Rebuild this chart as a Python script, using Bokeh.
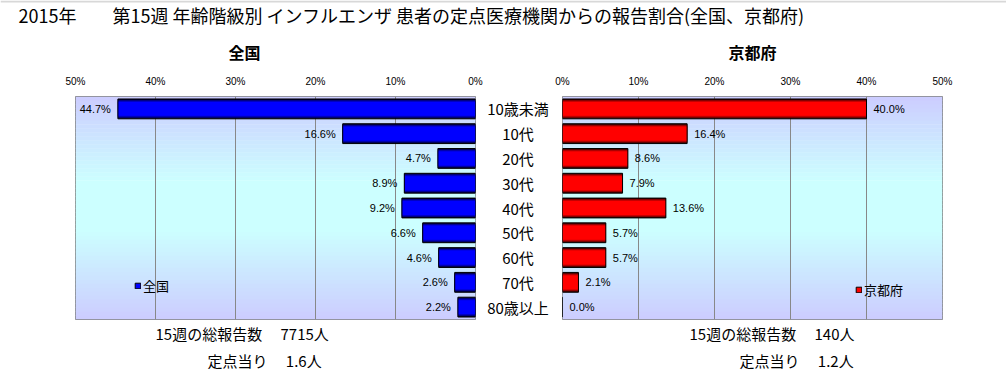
from bokeh.plotting import figure
from bokeh.layouts import column, row
from bokeh.models import (Range1d, FactorRange, FixedTicker, PrintfTickFormatter, BoxAnnotation,
                          Grid, Legend, LegendItem, ColumnDataSource, Title, Span)
from bokeh.core.properties import value
from bokeh.embed import file_html
from bokeh.resources import INLINE

# ---------------- data ----------------
title_text = "2015年　　第15週 年齢階級別 インフルエンザ 患者の定点医療機関からの報告割合(全国、京都府)"
categories = ["10歳未満", "10代", "20代", "30代", "40代", "50代", "60代", "70代", "80歳以上"]
national = [44.7, 16.6, 4.7, 8.9, 9.2, 6.6, 4.6, 2.6, 2.2]
kyoto = [40.0, 16.4, 8.6, 7.9, 13.6, 5.7, 5.7, 2.1, 0.0]
tick_values = [0, 10, 20, 30, 40, 50]
panel_names = ["全国", "京都府"]
total_label = "15週の総報告数"
total_values = ["7715人", "140人"]
per_label = "定点当り"
per_values = ["1.6人", "1.2人"]

JP = "Noto Sans CJK JP"
NUM = "Liberation Sans"

BLUES = ["#000030", "#000068", "#0000A0", "#0000D0", "#0000FF"]
REDS = ["#300000", "#680000", "#A00000", "#D00000", "#FF0000"]
HEIGHTS = [0.8, 0.74, 0.68, 0.62, 0.56]

ROW_H = 345
MB_TOP = 67
MB_BOT = 54


def bg_color(t):
    # lavender -> light cyan -> lavender
    if t < 0.38:
        g = 204 + (255 - 204) * t / 0.38
    elif t < 0.6:
        g = 255
    else:
        g = 255 - (255 - 204) * (t - 0.6) / 0.4
    return "#%02x%02x%02x" % (204, int(round(g)), 255)


def make_panel(vals, reverse, colors, name, legend_loc, width, bl, br,
               title_align, title_offset, line1_offset, line2_offset, tot, per, y_range):
    src = ColumnDataSource(dict(cat=categories, val=vals,
                                lab=["%.1f%%" % v for v in vals]))
    p = figure(width=width, height=ROW_H,
               x_range=Range1d(50, 0) if reverse else Range1d(0, 50),
               y_range=y_range, x_axis_location="above", y_axis_location=None,
               toolbar_location=None, output_backend="svg",
               min_border_left=bl, min_border_right=br,
               min_border_top=MB_TOP, min_border_bottom=MB_BOT)
    p.outline_line_color = "#808080"
    p.outline_line_width = 1
    p.background_fill_color = "white"
    p.border_fill_color = "white"
    p.grid.visible = False

    ax = p.xaxis[0]
    ax.ticker = FixedTicker(ticks=tick_values)
    ax.formatter = PrintfTickFormatter(format="%d%%")
    ax.axis_line_color = None
    ax.major_tick_line_color = None
    ax.minor_tick_line_color = None
    ax.major_tick_out = 0
    ax.major_tick_in = 0
    ax.major_label_standoff = 10
    ax.major_label_text_font = NUM
    ax.major_label_text_font_size = "10px"
    ax.major_label_text_color = "black"

    # panel title
    p.title = Title(text=name, align=title_align, offset=title_offset, standoff=18,
                    text_font=JP, text_font_size="16px", text_font_style="bold",
                    text_color="black")

    # gradient background
    n = 56
    for i in range(n):
        top = 9 - i * 9.0 / n
        bot = 9 - (i + 1) * 9.0 / n - 0.02
        p.add_layout(BoxAnnotation(top=top, bottom=max(bot, 0), fill_color=bg_color((i + 0.5) / n),
                                   fill_alpha=1, line_color=None, level="underlay"))
    p.add_layout(Grid(dimension=0, ticker=FixedTicker(ticks=tick_values),
                      grid_line_color="#888888", grid_line_width=1))

    rs = []
    for h, c in zip(HEIGHTS, colors):
        rs.append(p.hbar(y="cat", left=0, right="val", height=h, source=src,
                         fill_color=c, line_color=None))
    r_out = p.hbar(y="cat", left=0, right="val", height=0.8, source=src,
                   fill_color=None, line_color="black", line_width=1)

    p.text(x="val", y="cat", text="lab", source=src,
           text_align="right" if reverse else "left", text_baseline="middle",
           x_offset=-7 if reverse else 7,
           text_font=value(NUM), text_font_size="11px", text_color="black")

    leg = Legend(items=[LegendItem(label=name, renderers=[rs[-1], r_out])],
                 location=legend_loc, border_line_color=None, background_fill_alpha=0,
                 padding=0, margin=0, spacing=0, glyph_width=7, glyph_height=7,
                 label_standoff=2, label_height=7, label_text_font=JP,
                 label_text_font_size="13px", label_text_color="black")
    p.add_layout(leg)

    # report totals below the panel
    p.add_layout(Title(text=total_label + "　  " + tot, align="left", offset=line1_offset,
                       standoff=3, text_font=JP, text_font_size="15px",
                       text_font_style="normal", text_color="black"), "below")
    p.add_layout(Title(text=per_label + "　  " + per, align="left", offset=line2_offset,
                       standoff=5, text_font=JP, text_font_size="15px",
                       text_font_style="normal", text_color="black"), "below")
    return p


y_range = FactorRange(*reversed(categories), range_padding=0)

p1 = make_panel(national, True, BLUES, panel_names[0], (59, 24), 484, 75, 9,
                "left", 153, 80, 132, total_values[0], per_values[0], y_range)
p2 = make_panel(kyoto, False, REDS, panel_names[1], (293, 20), 455, 11, 64,
                "center", 0, 127, 177, total_values[1], per_values[1], y_range)

# category labels between the panels
pm = figure(width=67, height=ROW_H, x_range=Range1d(-1, 1), y_range=y_range,
            x_axis_location=None, y_axis_location=None, toolbar_location=None,
            output_backend="svg", min_border_left=0, min_border_right=0,
            min_border_top=MB_TOP, min_border_bottom=MB_BOT)
pm.outline_line_color = None
pm.grid.visible = False
pm.text(x=[0] * len(categories), y=categories, text=categories, text_align="center",
        text_baseline="middle", text_font=value(JP), text_font_size="15px", text_color="black")

# title strip
pt = figure(width=1006, height=28, x_range=Range1d(0, 1006), y_range=Range1d(28, 0),
            x_axis_location=None, y_axis_location=None, toolbar_location=None,
            output_backend="svg", min_border=0)
pt.outline_line_color = None
pt.grid.visible = False
pt.add_layout(Span(location=1, dimension="width", line_color="#d8d8d8", line_width=2))
pt.text(x=[18], y=[14.5], text=[title_text], text_align="left", text_baseline="middle",
        text_font=value(JP), text_font_size="18px", text_color="black")

layout = column(pt, row(p1, pm, p2))
open("out.html", "w").write(file_html(layout, INLINE))
